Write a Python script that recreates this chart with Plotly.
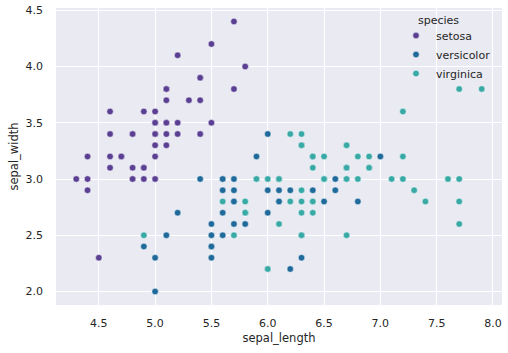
import plotly.graph_objects as go

species = ["setosa", "versicolor", "virginica"]
colors = ["#5b3f93", "#1f6a9b", "#39a9a6"]

setosa_length = [5.1,4.9,4.7,4.6,5.0,5.4,4.6,5.0,4.4,4.9,5.4,4.8,4.8,4.3,5.8,5.7,5.4,5.1,5.7,5.1,5.4,5.1,4.6,5.1,4.8,5.0,5.0,5.2,5.2,4.7,4.8,5.4,5.2,5.5,4.9,5.0,5.5,4.9,4.4,5.1,5.0,4.5,4.4,5.0,5.1,4.8,5.1,4.6,5.3,5.0]
setosa_width = [3.5,3.0,3.2,3.1,3.6,3.9,3.4,3.4,2.9,3.1,3.7,3.4,3.0,3.0,4.0,4.4,3.9,3.5,3.8,3.8,3.4,3.7,3.6,3.3,3.4,3.0,3.4,3.5,3.4,3.2,3.1,3.4,4.1,4.2,3.1,3.2,3.5,3.6,3.0,3.4,3.5,2.3,3.2,3.5,3.8,3.0,3.8,3.2,3.7,3.3]
versicolor_length = [7.0,6.4,6.9,5.5,6.5,5.7,6.3,4.9,6.6,5.2,5.0,5.9,6.0,6.1,5.6,6.7,5.6,5.8,6.2,5.6,5.9,6.1,6.3,6.1,6.4,6.6,6.8,6.7,6.0,5.7,5.5,5.5,5.8,6.0,5.4,6.0,6.7,6.3,5.6,5.5,5.5,6.1,5.8,5.0,5.6,5.7,5.7,6.2,5.1,5.7]
versicolor_width = [3.2,3.2,3.1,2.3,2.8,2.8,3.3,2.4,2.9,2.7,2.0,3.0,2.2,2.9,2.9,3.1,3.0,2.7,2.2,2.5,3.2,2.8,2.5,2.8,2.9,3.0,2.8,3.0,2.9,2.6,2.4,2.4,2.7,2.7,3.0,3.4,3.1,2.3,3.0,2.5,2.6,3.0,2.6,2.3,2.7,3.0,2.9,2.9,2.5,2.8]
virginica_length = [6.3,5.8,7.1,6.3,6.5,7.6,4.9,7.3,6.7,7.2,6.5,6.4,6.8,5.7,5.8,6.4,6.5,7.7,7.7,6.0,6.9,5.6,7.7,6.3,6.7,7.2,6.2,6.1,6.4,7.2,7.4,7.9,6.4,6.3,6.1,7.7,6.3,6.4,6.0,6.9,6.7,6.9,5.8,6.8,6.7,6.7,6.3,6.5,6.2,5.9]
virginica_width = [3.3,2.7,3.0,2.9,3.0,3.0,2.5,2.9,2.5,3.6,3.2,2.7,3.0,2.5,2.8,3.2,3.0,3.8,2.6,2.2,3.2,2.8,2.8,2.7,3.3,3.2,2.8,3.0,2.8,3.0,2.8,3.8,2.8,2.8,2.6,3.0,3.4,3.1,3.0,3.1,3.1,3.1,2.7,3.2,3.3,3.0,2.5,3.0,3.4,3.0]

xs = [setosa_length, versicolor_length, virginica_length]
ys = [setosa_width, versicolor_width, virginica_width]

x_ticks = [4.5, 5.0, 5.5, 6.0, 6.5, 7.0, 7.5, 8.0]
y_ticks = [2.0, 2.5, 3.0, 3.5, 4.0, 4.5]

fig = go.Figure()
for name, c, x, y in zip(species, colors, xs, ys):
    fig.add_trace(go.Scatter(
        x=x, y=y, mode="markers", name=name,
        marker=dict(color=c, size=6.5, line=dict(color="white", width=0.5)),
    ))

txt = "#262626"
L, R, T, B = 56, 6, 8, 48
pw = 508 - L - R
ph = 353 - T - B
fig.update_layout(
    width=508, height=353,
    margin=dict(l=L, r=R, t=T, b=B, autoexpand=False),
    paper_bgcolor="white", plot_bgcolor="#eaeaf2",
    font=dict(family="DejaVu Sans", size=11, color=txt),
    showlegend=True,
    legend=dict(
        title=dict(text="", font=dict(size=11, color=txt)),
        x=(396 - L) / pw, y=1 - (21 - T) / ph, xanchor="left", yanchor="top",
        bgcolor="rgba(0,0,0,0)", font=dict(size=11, color=txt),
        tracegroupgap=0, itemwidth=30,
    ),
    annotations=[dict(
        text="species", xref="paper", yref="paper",
        x=(416 - L) / pw, y=1 - (20 - T) / ph, xanchor="left", yanchor="middle",
        showarrow=False, font=dict(size=11, color=txt),
    )],
    xaxis=dict(
        range=[4.12, 8.08], tickvals=x_ticks, ticktext=[f"{v:.1f}" for v in x_ticks],
        showgrid=True, gridcolor="white", gridwidth=1, zeroline=False,
        ticks="", showline=False, automargin=False, ticklabelstandoff=10,
        title=dict(text="sepal_length", font=dict(size=11.5, color=txt), standoff=4),
        tickfont=dict(size=11, color=txt),
    ),
    yaxis=dict(
        range=[1.88, 4.52], tickvals=y_ticks, ticktext=[f"{v:.1f}" for v in y_ticks],
        showgrid=True, gridcolor="white", gridwidth=1, zeroline=False,
        ticks="", showline=False, automargin=False, ticklabelstandoff=12,
        title=dict(text="sepal_width", font=dict(size=11.5, color=txt), standoff=4),
        tickfont=dict(size=11, color=txt),
    ),
)
fig.write_html("out.html")
